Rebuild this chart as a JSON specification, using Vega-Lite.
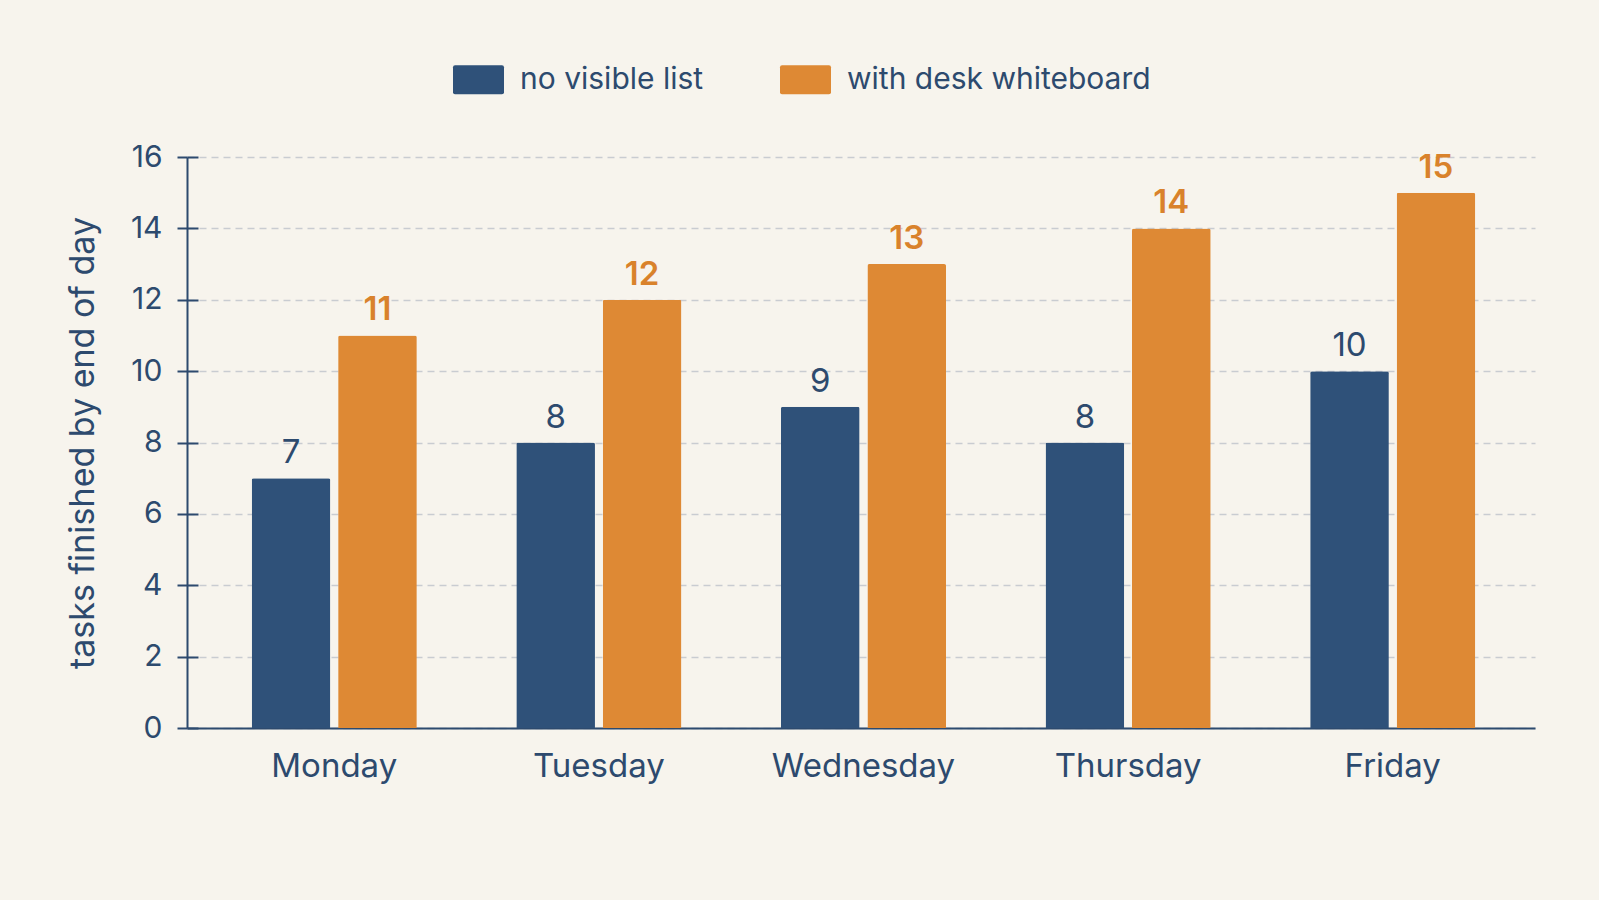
{
  "$schema": "https://vega.github.io/schema/vega-lite/v6.json",
  "autosize": {"type": "none"},
  "padding": {"left": 187, "top": 157, "right": 64, "bottom": 172},
  "width": 1348,
  "height": 571,
  "background": "#F7F4ED",
  "config": {
    "view": {"stroke": null},
    "font": "Inter"
  },
  "data": {
    "values": [
      {"day": "Monday", "condition": "no visible list", "tasks": 7},
      {"day": "Monday", "condition": "with desk whiteboard", "tasks": 11},
      {"day": "Tuesday", "condition": "no visible list", "tasks": 8},
      {"day": "Tuesday", "condition": "with desk whiteboard", "tasks": 12},
      {"day": "Wednesday", "condition": "no visible list", "tasks": 9},
      {"day": "Wednesday", "condition": "with desk whiteboard", "tasks": 13},
      {"day": "Thursday", "condition": "no visible list", "tasks": 8},
      {"day": "Thursday", "condition": "with desk whiteboard", "tasks": 14},
      {"day": "Friday", "condition": "no visible list", "tasks": 10},
      {"day": "Friday", "condition": "with desk whiteboard", "tasks": 15}
    ]
  },
  "encoding": {
    "x": {
      "field": "day",
      "type": "nominal",
      "sort": ["Monday", "Tuesday", "Wednesday", "Thursday", "Friday"],
      "scale": {"paddingInner": 0.376, "paddingOuter": 0.235, "align": 0.52},
      "axis": {
        "title": null,
        "labelAngle": 0,
        "labelFontSize": 33,
        "labelColor": "#2D4A6E",
        "labelPadding": 22,
        "labelLimit": 400,
        "ticks": false,
        "domainColor": "#2D4A6E",
        "domainWidth": 2
      }
    },
    "xOffset": {
      "field": "condition",
      "type": "nominal",
      "scale": {"paddingInner": 0.09, "paddingOuter": 0}
    }
  },
  "layer": [
    {
      "mark": {"type": "bar", "cornerRadiusTopLeft": 2, "cornerRadiusTopRight": 2},
      "encoding": {
        "y": {
          "field": "tasks",
          "type": "quantitative",
          "scale": {"domain": [0, 16], "nice": false},
          "axis": {
            "orient": "left",
            "title": "tasks finished by end of day",
            "titleFontSize": 34,
            "titleFontWeight": "normal",
            "titleColor": "#2D4A6E",
            "titlePadding": 30,
            "values": [0, 2, 4, 6, 8, 10, 12, 14, 16],
            "labelFontSize": 30,
            "labelColor": "#2D4A6E",
            "labelPadding": 15,
            "tickSize": 10,
            "tickWidth": 2,
            "tickColor": "#2D4A6E",
            "domainColor": "#2D4A6E",
            "domainWidth": 2,
            "grid": true,
            "gridColor": "#C9CCD1",
            "gridDash": [7, 5],
            "gridWidth": 1.5
          }
        },
        "color": {
          "field": "condition",
          "type": "nominal",
          "scale": {
            "domain": ["no visible list", "with desk whiteboard"],
            "range": ["#2F5179", "#DE8934"]
          },
          "legend": {
            "title": null,
            "orient": "none",
            "legendX": 266,
            "legendY": -103,
            "direction": "horizontal",
            "padding": 0,
            "symbolType": "M-0.92,-0.57H0.92Q1,-0.57 1,-0.49V0.49Q1,0.57 0.92,0.57H-0.92Q-1,0.57 -1,0.49V-0.49Q-1,-0.57 -0.92,-0.57Z",
            "symbolSize": 2601,
            "symbolStrokeWidth": 0,
            "symbolOpacity": 1,
            "labelFontSize": 30,
            "labelColor": "#2D4A6E",
            "labelOffset": 16,
            "columnPadding": 76,
            "labelLimit": 500
          }
        }
      }
    },
    {
      "transform": [{"filter": "datum.condition === 'no visible list'"}],
      "mark": {"type": "text", "baseline": "alphabetic", "dy": -15, "fontSize": 33, "color": "#2D4A6E"},
      "encoding": {
        "y": {
          "field": "tasks",
          "type": "quantitative",
          "axis": {
            "orient": "left",
            "offset": -11,
            "title": null,
            "values": [0, 2, 4, 6, 8, 10, 12, 14, 16],
            "labels": false,
            "domain": false,
            "grid": false,
            "tickSize": 11,
            "tickWidth": 2,
            "tickColor": "#2D4A6E"
          }
        },
        "text": {"field": "tasks", "type": "quantitative"}
      }
    },
    {
      "transform": [{"filter": "datum.condition === 'with desk whiteboard'"}],
      "mark": {"type": "text", "baseline": "alphabetic", "dy": -15, "fontSize": 33, "fontWeight": 600, "color": "#D9822B"},
      "encoding": {
        "y": {"field": "tasks", "type": "quantitative", "axis": null},
        "text": {"field": "tasks", "type": "quantitative"}
      }
    }
  ],
  "resolve": {"axis": {"y": "independent"}}
}
